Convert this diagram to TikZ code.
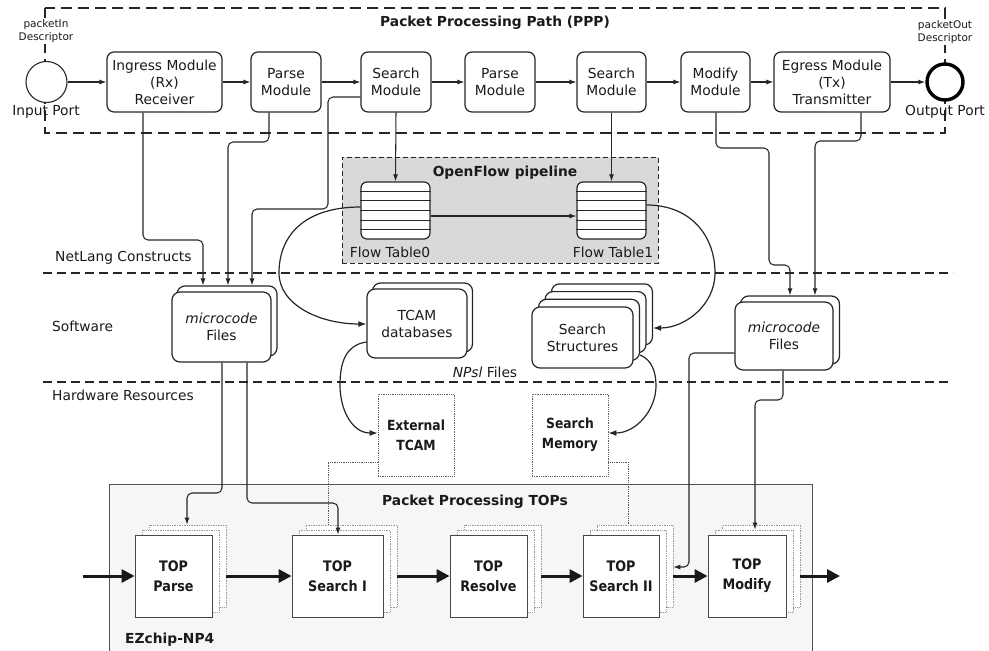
\documentclass[tikz,border=0pt]{standalone}
\usepackage{fontspec}
\setmainfont{DejaVu Sans}
\newfontfamily\condfont[FakeStretch=0.88]{DejaVu Sans}
\usetikzlibrary{arrows.meta,calc}
\definecolor{linec}{HTML}{262626}
\definecolor{txt}{HTML}{1A1A1A}
\begin{document}
\begin{tikzpicture}[x=1pt,y=-1pt,
  font=\fontsize{13.8}{17}\selectfont, text=txt,
  module/.style={draw=linec,line width=1.2pt,rounded corners=7pt,fill=white,align=center,inner sep=0pt,minimum height=60pt},
  stackbox/.style={draw=linec,line width=1.2pt,rounded corners=8pt,fill=white,align=center,inner sep=0pt},
  flowtab/.style={draw=linec,line width=1.2pt,rounded corners=6pt,fill=white,inner sep=0pt,minimum width=69pt,minimum height=57pt},
  hwbox/.style={draw=gray!75!black,densely dotted,line width=0.8pt,fill=white,align=center,inner sep=0pt,minimum width=76pt,minimum height=82pt,font={\condfont\bfseries\fontsize{14}{20}\selectfont}},
  topfront/.style={draw=gray!55!black,line width=0.8pt,fill=white,align=center,inner sep=0pt,minimum height=82pt,font={\condfont\bfseries\fontsize{14.5}{20}\selectfont}},
  topback/.style={draw=gray!80,densely dotted,line width=0.7pt,fill=white,inner sep=0pt,minimum height=82pt},
  conn/.style={draw=linec,line width=1.05pt,rounded corners=5pt},
  arr/.style={-{Latex[length=7pt,width=5pt]}},
  curv/.style={draw=linec,line width=1.2pt,-{Latex[length=8pt,width=6pt]}},
  dotconn/.style={draw=gray!70!black,densely dotted,line width=0.8pt},
  bigarr/.style={draw=black!90,line width=3pt,-{Triangle[length=13pt,width=13pt]}},
  sepline/.style={draw=linec,line width=1.1pt,dash pattern=on 9pt off 5pt},
  lbl/.style={inner sep=0pt,anchor=west},
  title/.style={inner sep=0pt,font={\bfseries\fontsize{13.8}{17}\selectfont}},
  small/.style={font=\fontsize{10.5}{13}\selectfont,align=center,inner sep=1pt}
]
\useasboundingbox (0,0) rectangle (989,651);

% ---------- PPP region ----------
\draw[draw=linec,line width=1.2pt,dash pattern=on 11pt off 6pt] (45,8) rectangle (945,133);
\node[title] (ppptitle) at (495,23) {Packet Processing Path (PPP)};

\node[small,fill=white] (pin) at (46,31) {packetIn\\Descriptor};
\node[small,fill=white] (pout) at (945,32) {packetOut\\Descriptor};
\node[circle,draw=linec,line width=1.1pt,fill=white,minimum size=41pt,inner sep=0pt] (inport) at (46.5,82) {};
\node[circle,draw=black,line width=3.4pt,fill=white,minimum size=36pt,inner sep=0pt] (outport) at (945,82) {};
\node[inner sep=0pt] (inlbl) at (46,112) {Input Port};
\node[inner sep=0pt] (outlbl) at (945,112) {Output Port};

\node[module,minimum width=115pt] (ingress) at (164.5,82) {Ingress Module\\(Rx)\\Receiver};
\node[module,minimum width=70pt] (parse1) at (286,82) {Parse\\Module};
\node[module,minimum width=70pt] (search1) at (396,82) {Search\\Module};
\node[module,minimum width=70pt] (parse2) at (500,82) {Parse\\Module};
\node[module,minimum width=69pt] (search2) at (611.5,82) {Search\\Module};
\node[module,minimum width=69pt] (modify) at (715.5,82) {Modify\\Module};
\node[module,minimum width=116pt] (egress) at (832,82) {Egress Module\\(Tx)\\Transmitter};

\draw[conn,arr] (inport) -- (ingress);
\draw[conn,arr] (ingress) -- (parse1);
\draw[conn,arr] (parse1) -- (search1);
\draw[conn,arr] (search1) -- (parse2);
\draw[conn,arr] (parse2) -- (search2);
\draw[conn,arr] (search2) -- (modify);
\draw[conn,arr] (modify) -- (egress);
\draw[conn,arr] (egress) -- (outport);

% ---------- OpenFlow pipeline ----------
\node[draw=linec,fill=gray!30,line width=1pt,dash pattern=on 5pt off 3pt,inner sep=0pt,minimum width=316pt,minimum height=106pt] (ofbox) at (500,210) {};
\node[title] (oftitle) at (505,173) {OpenFlow pipeline};
\node[flowtab] (ft0) at (395.5,210.5) {};
\node[flowtab] (ft1) at (611.5,210.5) {};
\foreach \t in {ft0,ft1}{
  \foreach \k in {1,...,5}{
    \draw[draw=linec,line width=1.1pt] ($(\t.north west)!\k/6!(\t.south west)$) -- ($(\t.north east)!\k/6!(\t.south east)$);
  }
}
\node[inner sep=0pt] (ft0lbl) at (390,252) {Flow Table0};
\node[inner sep=0pt] (ft1lbl) at (613,252) {Flow Table1};
\draw[conn,arr] (ft0.east |- 0,216) -- (ft1.west |- 0,216);

% ---------- separators and layer labels ----------
\draw[sepline] (43,273) -- (953,273);
\draw[sepline] (43,382) -- (948,382);
\node[lbl] (lnet) at (55,258) {NetLang Constructs};
\node[lbl] (lsw) at (52,326) {Software};
\node[lbl] (lhw) at (52,395) {Hardware Resources};

% ---------- Software boxes ----------
\node[stackbox,minimum width=100pt,minimum height=70pt] (mc1b) at (227,321) {};
\node[stackbox,minimum width=99pt,minimum height=70pt] (mc1) at (221.5,327) {\textit{microcode}\\Files};

\node[stackbox,minimum width=100pt,minimum height=69pt] (tcamb) at (422.5,317.5) {};
\node[stackbox,minimum width=100pt,minimum height=69pt] (tcam) at (417,323.5) {TCAM\\databases};

\node[stackbox,minimum width=101pt,minimum height=61pt] (ss3) at (602,314.4) {};
\node[stackbox,minimum width=101pt,minimum height=61pt] (ss2) at (595.5,322.1) {};
\node[stackbox,minimum width=101pt,minimum height=61pt] (ss1) at (589,329.8) {};
\node[stackbox,minimum width=101pt,minimum height=61pt] (ss) at (582.5,337.5) {Search\\Structures};

\node[stackbox,minimum width=99pt,minimum height=68pt] (mc2b) at (790,330) {};
\node[stackbox,minimum width=98pt,minimum height=68pt] (mc2) at (784,336) {\textit{microcode}\\Files};

\node[inner sep=0pt] (npsl) at (485,372) {\textit{NPsl} Files};

% ---------- Hardware resources ----------
\node[hwbox] (etcam) at (416,435) {External\\TCAM};
\node[hwbox] (smem) at (570,435) {Search\\Memory};

% ---------- TOPs container ----------
\fill[gray!7] (109,484) rectangle (812,651);
\draw[draw=gray!65!black,line width=0.8pt] (109,651) -- (109,484) -- (812,484) -- (812,651);
\node[title] (toptitle) at (475,502) {Packet Processing TOPs};
\node[title,anchor=west] (ezchip) at (125,640) {EZchip-NP4};

% TOP Parse
\node[topback,minimum width=77pt] (parsec) at (187.5,566) {};
\node[topback,minimum width=77pt] (parseb) at (180.5,571) {};
\node[topfront,minimum width=77pt] (parse) at (173.5,576) {TOP\\Parse};
% TOP Search I
\node[topback,minimum width=91pt] (s1c) at (351.5,566) {};
\node[topback,minimum width=91pt] (s1b) at (344.5,571) {};
\node[topfront,minimum width=91pt] (s1) at (337.5,576) {TOP\\Search I};
% TOP Resolve
\node[topback,minimum width=77pt] (resc) at (502.5,566) {};
\node[topback,minimum width=77pt] (resb) at (495.5,571) {};
\node[topfront,minimum width=77pt] (res) at (488.5,576) {TOP\\Resolve};
% TOP Search II
\node[topback,minimum width=76pt] (s2c) at (635,566) {};
\node[topback,minimum width=76pt] (s2b) at (628,571) {};
\node[topfront,minimum width=76pt] (s2) at (621,576) {TOP\\Search II};
% TOP Modify
\node[topback,minimum width=78pt] (modc) at (761,566) {};
\node[topback,minimum width=78pt] (modb) at (754,571) {};
\node[topfront,minimum width=78pt] (mod) at (747,576) {TOP\\Modify};

\coordinate (bigin) at (83,576);
\coordinate (bigout) at (840,576);
\draw[bigarr] (bigin) -- (parse.west);
\draw[bigarr] (parsec.east |- parse.center) -- (s1.west);
\draw[bigarr] (s1c.east |- s1.center) -- (res.west);
\draw[bigarr] (resc.east |- res.center) -- (s2.west);
\draw[bigarr] (s2c.east |- s2.center) -- (mod.west);
\draw[bigarr] (modc.east |- mod.center) -- (bigout);

% ---------- connectors PPP -> software ----------
\draw[conn,arr] (ingress.south -| 143,0) -- (143,240) -- (203,240) -- (mc1b.north -| 203,0);
\draw[conn,arr] (parse1.south -| 269,0) -- (269,142) -- (228,142) -- (mc1b.north -| 228,0);
\draw[conn,arr] (search1.west |- 0,97) -- (328,97) -- (328,209) -- (252,209) -- (mc1b.north -| 252,0);
\draw[conn,arr] (search1.south) -- (ft0.north);
\draw[conn,arr] (search2.south) -- (ft1.north);
\draw[conn,arr] (modify.south -| 716,0) -- (716,148) -- (769,148) -- (769,265) -- (790,265) -- (mc2b.north -| 790,0);
\draw[conn,arr] (egress.south -| 861,0) -- (861,141) -- (815,141) -- (mc2b.north -| 815,0);

% ---------- curves ----------
\draw[curv] (ft0.west |- 0,207) .. controls (305,207) and (279,235) .. (279,273)
   .. controls (279,305) and (320,324) .. (tcam.west |- 0,324);
\draw[curv] (ft1.east |- 0,205) .. controls (690,205) and (715,235) .. (715,273)
   .. controls (715,305) and (685,328) .. (ss3.east |- 0,328);
\draw[curv] (tcam.west |- 0,342) .. controls (346,345) and (340,362) .. (340,385)
   .. controls (340,410) and (352,433) .. (etcam.west |- 0,433);
\draw[curv] (ss1.east |- 0,355) .. controls (652,360) and (656,372) .. (656,386)
   .. controls (656,410) and (636,433) .. (smem.east |- 0,433);

% ---------- software -> TOPs ----------
\draw[conn,arr] (mc1.south -| 222,0) -- (222,493) -- (187,493) -- (parsec.north -| 187,0);
\draw[conn,arr] (mc1.south -| 247,0) -- (247,503) -- (338,503) -- (s1.north -| 338,0);
\draw[conn,arr] (mc2.west |- 0,353) -- (689,353) -- (689,567) -- (s2c.east |- 0,567);
\draw[conn,arr] (mc2.south -| 783,0) -- (783,400) -- (755,400) -- (modb.north -| 755,0);
\draw[dotconn] (etcam.west |- 0,462) -- (328,462) -- (s1c.north -| 328,0);
\draw[dotconn] (smem.east |- 0,462) -- (628,462) -- (s2c.north -| 628,0);
\end{tikzpicture}
\end{document}
